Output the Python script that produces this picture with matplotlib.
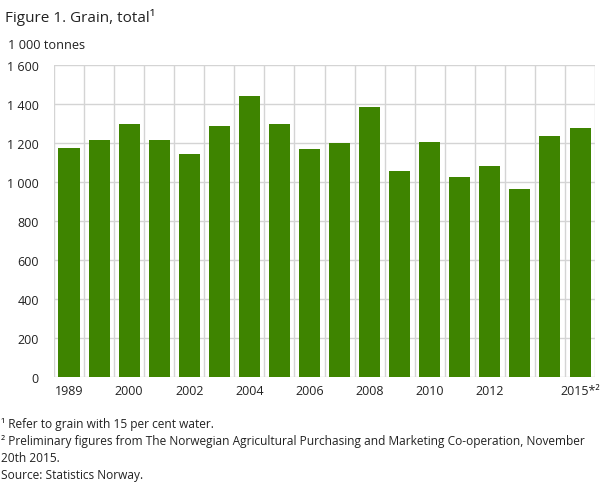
import matplotlib.pyplot as plt
import numpy as np
from matplotlib.ticker import FuncFormatter, MultipleLocator


plt.rcParams.update({'font.family': ['Open Sans', 'DejaVu Sans'], 'font.size': 9})

# Grain harvest, 1 000 tonnes
years = ['1989', '1999', '2000', '2001', '2002', '2003', '2004', '2005', '2006',
         '2007', '2008', '2009', '2010', '2011', '2012', '2013', '2014', '2015']
grain = [1176, 1217, 1299, 1217, 1145, 1289, 1443, 1299, 1171,
         1201, 1386, 1058, 1207, 1027, 1084, 966, 1237, 1278]
tick_labels = ['1989', '', '2000', '', '2002', '', '2004', '', '2006',
               '', '2008', '', '2010', '', '2012', '', '', '2015*²']

grid_col = '#d4d4d4'
bar_col = '#3e8400'
text_col = '#222222'

fig = plt.figure(figsize=(6.1, 4.89), dpi=100)
ax = fig.add_axes([0.0885, 0.227, 0.887, 0.638])

x = np.arange(len(years))
ax.bar(x, grain, width=0.7, color=bar_col, zorder=3)

ax.set_xlim(-0.5, len(years) - 0.5)
ax.set_ylim(0, 1600)
ax.yaxis.set_major_locator(MultipleLocator(200))
ax.yaxis.set_major_formatter(FuncFormatter(lambda v, p: f"{int(v):,}".replace(',', ' ')))
ax.set_xticks(x)
ax.set_xticklabels(tick_labels)
ax.set_xticks(np.arange(-0.5, len(years)), minor=True)

ax.grid(axis='y', which='major', color=grid_col, lw=1, zorder=0)
ax.grid(axis='x', which='minor', color=grid_col, lw=1, zorder=0)
ax.tick_params(axis='both', which='both', length=0, labelsize=9, colors=text_col)
ax.tick_params(axis='y', pad=11)
ax.tick_params(axis='x', pad=5)
for s in ax.spines.values():
    s.set_visible(False)

fig.text(0.008, 0.965, 'Figure 1. Grain, total¹', fontsize=11, ha='left', va='center', color=text_col)
fig.text(0.013, 0.906, '1 000 tonnes', fontsize=9.2, ha='left', va='center', color=text_col)

notes = ['¹ Refer to grain with 15 per cent water.',
         '² Preliminary figures from The Norwegian Agricultural Purchasing and Marketing Co-operation, November',
         '20th 2015.',
         'Source: Statistics Norway.']
for i, n in enumerate(notes):
    fig.text(0.002, 0.131 - i * 0.0348, n, fontsize=8.6, ha='left', va='center', color=text_col)

fig.savefig('out.png', dpi=100)
